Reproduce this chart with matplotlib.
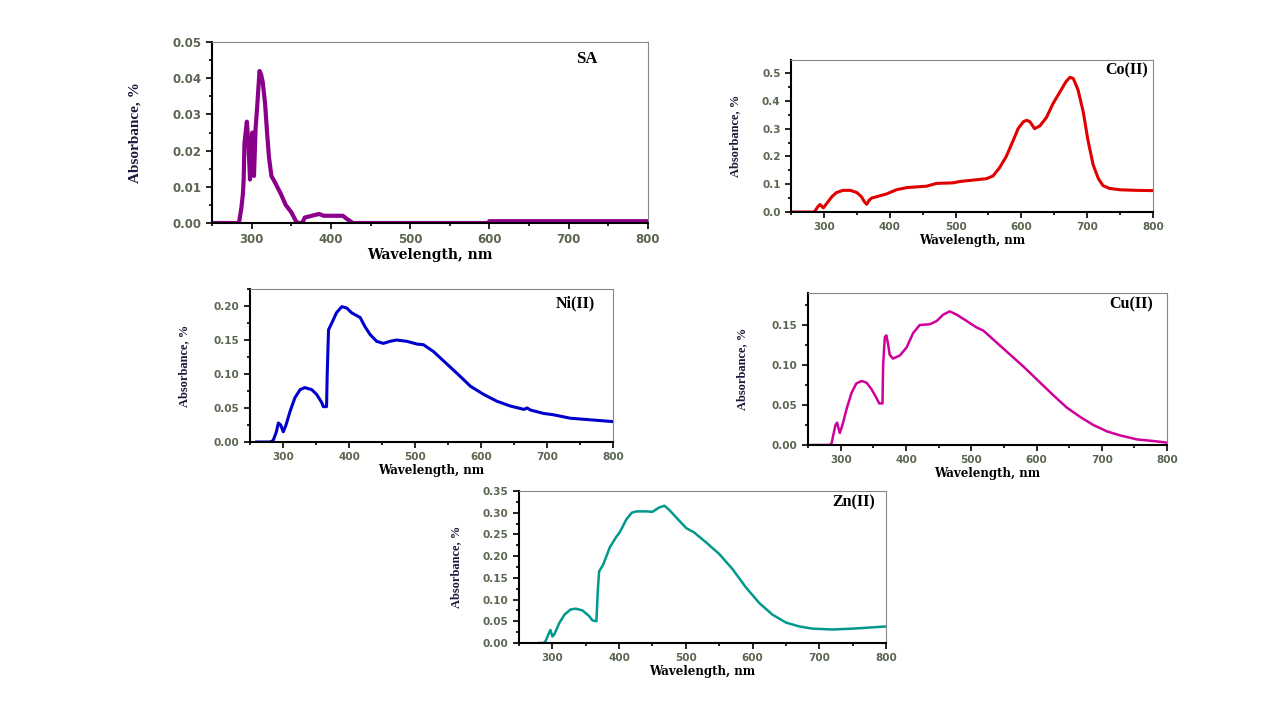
import matplotlib
matplotlib.use("Agg")
import matplotlib.pyplot as plt
from matplotlib.ticker import MultipleLocator, FormatStrFormatter

# SA
sa_x = [250, 284, 287, 289, 290, 291, 294, 296, 298, 300, 301, 303, 305, 307, 310, 312, 314,
        317, 319.5, 322, 325, 330, 337, 343, 350, 356, 359, 363, 365, 367, 376, 385, 391,
        415, 421, 428, 598, 600, 800]
sa_y = [0, 0, 0.004, 0.008, 0.012, 0.022, 0.028, 0.022, 0.012, 0.022, 0.025, 0.013, 0.026,
        0.032, 0.042, 0.041, 0.039, 0.033, 0.025, 0.018, 0.013, 0.011, 0.008, 0.005, 0.003,
        0.0005, 0, 0, 0.0005, 0.0015, 0.002, 0.0025, 0.002, 0.002, 0.001, 0.0, 0.0, 0.0005,
        0.0005]

# Co(II)
co_x = [250, 284, 286, 291, 294, 299, 304, 312, 319, 329, 340, 350, 357, 362, 365, 368, 372,
        380, 395, 410, 426, 456, 471, 496, 507, 527, 547, 557, 567, 577, 588, 595, 603, 608,
        613, 620, 628, 638, 648, 658, 668, 674, 679, 686, 694, 701, 709, 717, 724, 734, 750,
        775, 800]
co_y = [0, 0, 0.002, 0.02, 0.027, 0.015, 0.03, 0.055, 0.07, 0.078, 0.078, 0.07, 0.055, 0.035,
        0.028, 0.04, 0.05, 0.055, 0.065, 0.08, 0.088, 0.093, 0.103, 0.105, 0.11, 0.115, 0.12,
        0.13, 0.16, 0.2, 0.26, 0.3, 0.325, 0.33, 0.325, 0.3, 0.31, 0.34, 0.39, 0.43, 0.47,
        0.485, 0.48, 0.44, 0.36, 0.26, 0.17, 0.12, 0.095, 0.085, 0.08, 0.078, 0.077]

# Ni(II)
ni_x = [260, 280, 285, 290, 293, 296.5, 300.5, 304.6, 310.7, 318, 326, 333, 343.5, 351,
        358.7, 361, 366, 367, 369, 374, 381, 389, 396.6, 404, 417, 424, 432, 442, 452, 462,
        472, 488, 503, 513, 528, 548, 568, 584, 604, 624, 644, 665, 670, 675, 695, 710, 735,
        761, 800]
ni_y = [0, 0, 0.002, 0.015, 0.028, 0.025, 0.015, 0.025, 0.045, 0.065, 0.077, 0.08, 0.077,
        0.07, 0.058, 0.052, 0.052, 0.1, 0.165, 0.175, 0.19, 0.199, 0.197, 0.19, 0.183, 0.17,
        0.158, 0.148, 0.145, 0.148, 0.15, 0.148, 0.144, 0.143, 0.133, 0.115, 0.097, 0.082,
        0.07, 0.06, 0.053, 0.048, 0.05, 0.047, 0.042, 0.04, 0.035, 0.033, 0.03]

# Cu(II)
cu_x = [255, 283, 286, 288, 292, 294.5, 298.6, 302.7, 309, 316.5, 324, 332, 339.5, 347, 354,
        359, 364, 365, 367.6, 370, 372.8, 375, 380, 390.7, 401, 411, 421, 436.7, 447, 457,
        467, 477.6, 493, 508, 518.5, 539, 559.5, 580, 605.5, 626, 646, 667, 687, 708, 728,
        754, 779, 800]
cu_y = [0, 0, 0.002, 0.01, 0.025, 0.028, 0.015, 0.025, 0.045, 0.065, 0.077, 0.08, 0.078,
        0.07, 0.06, 0.052, 0.052, 0.1, 0.135, 0.137, 0.125, 0.113, 0.108, 0.112, 0.122, 0.14,
        0.15, 0.151, 0.155, 0.163, 0.167, 0.163, 0.155, 0.147, 0.143, 0.128, 0.113, 0.098,
        0.078, 0.062, 0.047, 0.035, 0.025, 0.017, 0.012, 0.007, 0.005, 0.003]

# Zn(II)
zn_x = [280, 287, 290, 294, 297, 300, 303, 310, 318, 327, 335, 345, 355, 360, 366, 368, 370,
        376, 386, 396, 401, 411, 419, 426, 440, 450, 460, 468, 476, 491, 501, 512, 530, 550,
        570, 590, 610, 630, 650, 670, 690, 720, 750, 780, 800]
zn_y = [0, 0, 0.005, 0.02, 0.03, 0.015, 0.02, 0.045, 0.065, 0.077, 0.079, 0.075, 0.062,
        0.052, 0.05, 0.12, 0.165, 0.18, 0.22, 0.245, 0.255, 0.285, 0.3, 0.303, 0.303, 0.302,
        0.312, 0.316, 0.305, 0.28, 0.264, 0.255, 0.232, 0.205, 0.17, 0.128, 0.092, 0.065,
        0.047, 0.038, 0.033, 0.031, 0.033, 0.036, 0.038]

tick_color = "#5a6650"

fig = plt.figure(figsize=(12.8, 7.18), dpi=100)


def draw_panel(rect, x, y, color, lw, name, ylim, ymajor, yminor, yfmt, name_pos,
               ypad, big=False):
    ax = fig.add_axes(rect)
    ax.plot(x, y, color=color, lw=lw, solid_joinstyle="round")
    ax.set_xlim(250, 800)
    ax.set_ylim(0, ylim)
    ax.xaxis.set_major_locator(MultipleLocator(100))
    ax.xaxis.set_minor_locator(MultipleLocator(50))
    ax.yaxis.set_major_locator(MultipleLocator(ymajor))
    ax.yaxis.set_minor_locator(MultipleLocator(yminor))
    ax.yaxis.set_major_formatter(FormatStrFormatter(yfmt))
    fs = 8.5 if big else 7.5
    ax.tick_params(axis="both", which="both", direction="out", top=False, right=False,
                   labelsize=fs, labelcolor=tick_color, width=1.2)
    ax.tick_params(which="major", length=4)
    ax.tick_params(which="minor", length=2.5)
    for lab in ax.get_xticklabels() + ax.get_yticklabels():
        lab.set_fontweight("bold")
    for s in ("left", "bottom"):
        ax.spines[s].set_linewidth(1.5)
        ax.spines[s].set_color("black")
    for s in ("top", "right"):
        ax.spines[s].set_linewidth(0.8)
        ax.spines[s].set_color("#888888")
    ax.set_xlabel("Wavelength, nm", family="DejaVu Serif", fontweight="bold",
                  fontsize=10 if big else 8.5, labelpad=1)
    ax.set_ylabel("Absorbance, %", family="Liberation Serif", fontweight="bold",
                  fontsize=11 if big else 9, color="#1a1a3a", labelpad=ypad)
    ax.text(name_pos[0], name_pos[1], name, transform=ax.transAxes, ha="right", va="top",
            family="Liberation Serif", fontweight="bold", fontsize=12 if big else 11.5)
    return ax


draw_panel([0.1656, 0.6894, 0.3406, 0.2521], sa_x, sa_y, "#8b008b", 3.0, "SA",
           0.05, 0.01, 0.005, "%.2f", (0.885, 0.95), 22, big=True)
draw_panel([0.618, 0.7047, 0.2828, 0.2117], co_x, co_y, "#e00000", 2.2, "Co(II)",
           0.547, 0.1, 0.05, "%.1f", (0.985, 0.985), 15)
draw_panel([0.1953, 0.3844, 0.2836, 0.2131], ni_x, ni_y, "#0000cc", 2.2, "Ni(II)",
           0.225, 0.05, 0.025, "%.2f", (0.95, 0.955), 17)
draw_panel([0.6313, 0.3802, 0.2805, 0.2117], cu_x, cu_y, "#d0009a", 1.8, "Cu(II)",
           0.19, 0.05, 0.025, "%.2f", (0.96, 0.975), 17)
draw_panel([0.4055, 0.1045, 0.2867, 0.2117], zn_x, zn_y, "#00998c", 1.8, "Zn(II)",
           0.35, 0.05, 0.025, "%.2f", (0.97, 0.975), 15)

fig.savefig("out.png", dpi=100)
